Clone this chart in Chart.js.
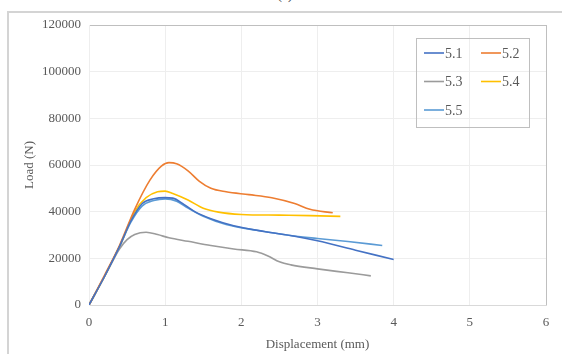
<!DOCTYPE html>
<html>
<head>
<meta charset="utf-8">
<script src="https://cdn.jsdelivr.net/npm/chart.js@4/dist/chart.umd.min.js"></script>
<style>
  html, body { margin: 0; padding: 0; background: #fff; }
  .wrap { position: relative; width: 562px; height: 354px; overflow: hidden; }
  .frame { position: absolute; left: 7px; top: 11px; width: 600px; height: 400px;
           border-left: 2px solid #d4d4d4; border-top: 2px solid #d4d4d4; }
  .tag { position: absolute; left: 270px; top: -13px; width: 30px; text-align: center;
         font: 14px "Liberation Serif", serif; color: #404040; }
  canvas { position: absolute; left: 0; top: 0; }
</style>
</head>
<body>
<div class="wrap">
  <div class="frame"></div>
  <div class="tag">(a)</div>
  <canvas id="chart" width="562" height="354"></canvas>
</div>
<script>
// displacement (mm) / load (N)
const disp51 = [0, 0.2, 0.4, 0.55, 0.7, 0.85, 1.0, 1.1, 1.25, 1.4, 1.6, 1.9, 2.3, 2.7, 3.0, 3.5, 4.0];
const load51 = [0, 12000, 25000, 36000, 43500, 45500, 46000, 45800, 43000, 39800, 37000, 34000, 31500, 29500, 27500, 23500, 19500];

const disp52 = [0, 0.2, 0.4, 0.6, 0.8, 0.95, 1.05, 1.15, 1.3, 1.45, 1.6, 1.8, 2.1, 2.4, 2.7, 2.9, 3.2];
const load52 = [0, 12500, 25500, 41000, 53500, 59500, 61000, 60500, 57500, 53000, 50000, 48500, 47300, 46000, 43500, 41000, 39500];

const disp53 = [0, 0.2, 0.4, 0.5, 0.6, 0.75, 0.9, 1.05, 1.3, 1.6, 1.9, 2.2, 2.35, 2.5, 2.65, 3.0, 3.4, 3.7];
const load53 = [0, 12000, 24000, 28000, 30200, 31200, 30200, 28800, 27300, 25500, 24000, 22800, 21000, 18500, 17200, 15500, 13800, 12500];

const disp54 = [0, 0.2, 0.4, 0.6, 0.75, 0.9, 1.0, 1.1, 1.3, 1.5, 1.7, 2.0, 2.5, 2.9, 3.3];
const load54 = [0, 12000, 25000, 40000, 46000, 48500, 48800, 47800, 45000, 41500, 39800, 38800, 38500, 38300, 38000];

const disp55 = [0, 0.2, 0.4, 0.55, 0.7, 0.85, 1.0, 1.15, 1.3, 1.5, 1.8, 2.2, 2.6, 3.0, 3.4, 3.85];
const load55 = [0, 12000, 25000, 35500, 42500, 44800, 45500, 44500, 41500, 38000, 34500, 32000, 30000, 28500, 27200, 25500];

const seriesNames = ['5.1', '5.2', '5.3', '5.4', '5.5'];
const seriesColors = ['#4472C4', '#ED7D31', '#9B9B9B', '#FFC000', '#5B9BD5'];
const xTicks = [0, 1, 2, 3, 4, 5, 6];
const yTicks = [0, 20000, 40000, 60000, 80000, 100000, 120000];

const serif = '"Liberation Serif", "Times New Roman", serif';

function toPoints(xs, ys) {
  return xs.map((x, i) => ({ x: x, y: ys[i] }));
}

const allDisp = [disp51, disp52, disp53, disp54, disp55];
const allLoad = [load51, load52, load53, load54, load55];

const datasets = seriesNames.map((name, i) => ({
  label: name,
  data: toPoints(allDisp[i], allLoad[i]),
  borderColor: seriesColors[i],
  backgroundColor: seriesColors[i],
  borderWidth: 1.6,
  pointRadius: 0,
  cubicInterpolationMode: 'monotone',
  fill: false
}));

// legend box drawn inside the plot, two columns like the original
const boxLegend = {
  id: 'boxLegend',
  afterDraw(chart) {
    const ctx = chart.ctx;
    const left = 416, top = 38, w = 113, h = 89;
    ctx.save();
    ctx.strokeStyle = '#bfbfbf';
    ctx.lineWidth = 1;
    ctx.strokeRect(left + 0.5, top + 0.5, w, h);
    ctx.font = '14px ' + serif;
    ctx.textBaseline = 'middle';
    ctx.fillStyle = '#595959';
    chart.data.datasets.forEach((ds, i) => {
      const col = i % 2;
      const row = Math.floor(i / 2);
      const x = left + 8 + col * 57;
      const y = top + 15 + row * 28.5;
      ctx.strokeStyle = ds.borderColor;
      ctx.lineWidth = 1.6;
      ctx.beginPath();
      ctx.moveTo(x, y);
      ctx.lineTo(x + 20, y);
      ctx.stroke();
      ctx.fillText(ds.label, x + 21, y + 1);
    });
    ctx.restore();
  }
};

new Chart(document.getElementById('chart'), {
  type: 'line',
  data: { datasets: datasets },
  options: {
    responsive: false,
    animation: false,
    layout: { padding: { left: 20, top: 25, right: 16, bottom: 2 } },
    plugins: {
      legend: { display: false },
      tooltip: { enabled: false }
    },
    scales: {
      x: {
        type: 'linear',
        min: 0,
        max: 6,
        afterBuildTicks: (s) => { s.ticks = xTicks.map(v => ({ value: v })); },
        afterFit: (s) => { s.height = 47; },
        grid: {
          drawTicks: false,
          color: (c) => c.tick && c.tick.value === 6 ? '#bfbfbf' : '#eeeeee'
        },
        border: { color: '#d9d9d9' },
        ticks: {
          padding: 10, color: '#595959', font: { family: serif, size: 13 },
          callback: (v) => String(v)
        },
        title: {
          display: true,
          text: 'Displacement (mm)',
          color: '#595959',
          font: { family: serif, size: 13 },
          padding: { top: 4, bottom: 0 }
        }
      },
      y: {
        min: 0,
        max: 120000,
        afterBuildTicks: (s) => { s.ticks = yTicks.map(v => ({ value: v })); },
        afterFit: (s) => { s.width = 69; },
        grid: {
          drawTicks: false,
          color: (c) => c.tick && c.tick.value === 120000 ? '#bfbfbf' : '#eeeeee'
        },
        border: { color: '#eeeeee' },
        ticks: {
          padding: 8, color: '#595959', font: { family: serif, size: 13 },
          callback: (v) => String(v)
        },
        title: {
          display: true,
          text: 'Load (N)',
          color: '#595959',
          font: { family: serif, size: 13 },
          padding: { top: 2, bottom: 0 }
        }
      }
    }
  },
  plugins: [boxLegend]
});
</script>
</body>
</html>
